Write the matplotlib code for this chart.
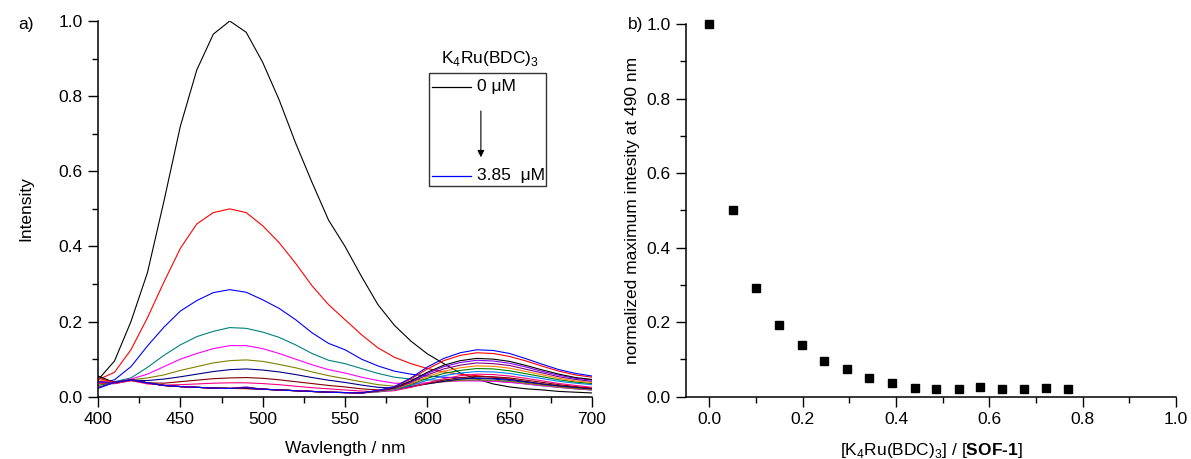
import matplotlib
matplotlib.use("Agg")
import matplotlib.pyplot as plt
from matplotlib.patches import Rectangle
from matplotlib.ticker import MultipleLocator

plt.rcParams['font.family'] = ['Liberation Sans', 'DejaVu Sans']
plt.rcParams['mathtext.fontset'] = 'custom'
plt.rcParams['mathtext.rm'] = 'Liberation Sans'
plt.rcParams['mathtext.bf'] = 'Liberation Sans:bold'
plt.rcParams['font.size'] = 12.5

# ---- panel a: emission spectra ----
wavelength = [400, 410, 420, 430, 440, 450, 460, 470, 480, 490, 500, 510, 520, 530, 540, 550,
              560, 570, 580, 590, 600, 610, 620, 630, 640, 650, 660, 670, 680, 690, 700]

spec_01 = [0.045, 0.095, 0.20, 0.33, 0.52, 0.72, 0.87, 0.965, 1.00, 0.97, 0.89, 0.79, 0.675, 0.57, 0.47, 0.40,
           0.32, 0.245, 0.19, 0.148, 0.114, 0.088, 0.063, 0.047, 0.034, 0.026, 0.021, 0.018, 0.014, 0.012, 0.010]
spec_02 = [0.045, 0.065, 0.125, 0.21, 0.305, 0.395, 0.46, 0.49, 0.50, 0.49, 0.455, 0.41, 0.355, 0.295, 0.245, 0.205,
           0.165, 0.13, 0.105, 0.088, 0.075, 0.066, 0.06, 0.056, 0.052, 0.047, 0.04, 0.034, 0.029, 0.025, 0.022]
spec_03 = [0.035, 0.045, 0.08, 0.135, 0.185, 0.228, 0.256, 0.277, 0.285, 0.278, 0.258, 0.235, 0.205, 0.17, 0.142, 0.125,
           0.1, 0.082, 0.068, 0.06, 0.055, 0.052, 0.05, 0.049, 0.047, 0.043, 0.038, 0.032, 0.027, 0.023, 0.02]
spec_04 = [0.04, 0.04, 0.05, 0.078, 0.11, 0.138, 0.16, 0.174, 0.184, 0.182, 0.172, 0.158, 0.138, 0.115, 0.097, 0.088,
           0.075, 0.062, 0.052, 0.047, 0.045, 0.044, 0.044, 0.044, 0.042, 0.039, 0.034, 0.029, 0.025, 0.021, 0.018]
spec_05 = [0.04, 0.038, 0.047, 0.06, 0.08, 0.1, 0.115, 0.128, 0.136, 0.136, 0.128, 0.115, 0.1, 0.085, 0.072, 0.063,
           0.052, 0.043, 0.036, 0.035, 0.037, 0.04, 0.042, 0.042, 0.041, 0.038, 0.034, 0.029, 0.025, 0.021, 0.018]
spec_06 = [0.04, 0.037, 0.045, 0.05, 0.058, 0.07, 0.08, 0.09, 0.096, 0.098, 0.094, 0.086, 0.077, 0.066, 0.056, 0.048,
           0.04, 0.032, 0.028, 0.03, 0.035, 0.04, 0.044, 0.045, 0.044, 0.041, 0.036, 0.031, 0.026, 0.022, 0.019]
spec_07 = [0.04, 0.037, 0.044, 0.043, 0.047, 0.053, 0.06, 0.067, 0.072, 0.074, 0.071, 0.066, 0.059, 0.051, 0.044, 0.038,
           0.031, 0.025, 0.023, 0.027, 0.034, 0.041, 0.047, 0.05, 0.049, 0.046, 0.04, 0.034, 0.029, 0.025, 0.021]
spec_08 = [0.035, 0.035, 0.043, 0.037, 0.036, 0.04, 0.044, 0.048, 0.05, 0.051, 0.049, 0.045, 0.04, 0.035, 0.03, 0.026,
           0.021, 0.018, 0.019, 0.026, 0.035, 0.044, 0.051, 0.054, 0.053, 0.05, 0.044, 0.038, 0.032, 0.027, 0.023]
spec_09 = [0.035, 0.035, 0.043, 0.034, 0.031, 0.032, 0.034, 0.036, 0.037, 0.037, 0.035, 0.032, 0.028, 0.024, 0.021, 0.018,
           0.015, 0.013, 0.016, 0.025, 0.037, 0.048, 0.056, 0.06, 0.059, 0.055, 0.049, 0.042, 0.035, 0.03, 0.025]
spec_10 = [0.05, 0.038, 0.045, 0.037, 0.03, 0.027, 0.025, 0.023, 0.022, 0.024, 0.02, 0.018, 0.016, 0.014, 0.012, 0.011,
           0.01, 0.013, 0.019, 0.03, 0.044, 0.056, 0.063, 0.067, 0.066, 0.062, 0.055, 0.048, 0.041, 0.036, 0.032]
spec_11 = [0.03, 0.038, 0.045, 0.037, 0.03, 0.027, 0.025, 0.023, 0.022, 0.023, 0.02, 0.018, 0.016, 0.014, 0.012, 0.011,
           0.01, 0.014, 0.02, 0.033, 0.049, 0.062, 0.07, 0.075, 0.074, 0.069, 0.061, 0.053, 0.045, 0.039, 0.035]
spec_12 = [0.045, 0.038, 0.045, 0.037, 0.03, 0.027, 0.025, 0.023, 0.022, 0.021, 0.02, 0.018, 0.016, 0.014, 0.012, 0.011,
           0.01, 0.014, 0.021, 0.035, 0.053, 0.068, 0.077, 0.082, 0.081, 0.076, 0.067, 0.058, 0.049, 0.042, 0.038]
spec_13 = [0.025, 0.038, 0.045, 0.037, 0.03, 0.027, 0.025, 0.023, 0.022, 0.026, 0.02, 0.018, 0.016, 0.014, 0.012, 0.011,
           0.01, 0.015, 0.022, 0.038, 0.058, 0.074, 0.084, 0.09, 0.088, 0.083, 0.073, 0.063, 0.053, 0.046, 0.041]
spec_14 = [0.04, 0.038, 0.045, 0.037, 0.03, 0.027, 0.025, 0.023, 0.022, 0.022, 0.02, 0.018, 0.016, 0.014, 0.012, 0.011,
           0.01, 0.015, 0.023, 0.04, 0.062, 0.08, 0.091, 0.097, 0.095, 0.089, 0.079, 0.067, 0.057, 0.049, 0.044]
spec_15 = [0.055, 0.038, 0.045, 0.037, 0.03, 0.027, 0.025, 0.023, 0.022, 0.022, 0.02, 0.018, 0.016, 0.014, 0.012, 0.011,
           0.01, 0.016, 0.024, 0.042, 0.065, 0.084, 0.096, 0.102, 0.1, 0.094, 0.083, 0.071, 0.06, 0.051, 0.046]
spec_16 = [0.05, 0.038, 0.045, 0.037, 0.03, 0.027, 0.025, 0.023, 0.022, 0.024, 0.02, 0.018, 0.016, 0.014, 0.012, 0.011,
           0.01, 0.016, 0.026, 0.047, 0.074, 0.096, 0.11, 0.117, 0.115, 0.107, 0.095, 0.081, 0.068, 0.058, 0.052]
spec_17 = [0.022, 0.038, 0.045, 0.037, 0.03, 0.027, 0.025, 0.023, 0.022, 0.024, 0.02, 0.018, 0.016, 0.014, 0.012, 0.011,
           0.01, 0.017, 0.027, 0.05, 0.079, 0.102, 0.117, 0.125, 0.123, 0.115, 0.101, 0.086, 0.072, 0.062, 0.055]

spectra = [spec_01, spec_02, spec_03, spec_04, spec_05, spec_06, spec_07, spec_08, spec_09,
           spec_10, spec_11, spec_12, spec_13, spec_14, spec_15, spec_16, spec_17]
spec_colors = ['#000000', '#FF0000', '#0000FF', '#008080', '#FF00FF', '#808000', '#000080', '#800000',
               '#FF0080', '#0080FF', '#008000', '#FF8000', '#800080', '#8000FF', '#000000', '#FF0000', '#0000FF']

# ---- panel b: quenching ----
ratio = [0.0, 0.05, 0.1, 0.15, 0.198, 0.246, 0.295, 0.343, 0.391, 0.44, 0.486, 0.535, 0.581, 0.628, 0.675, 0.722, 0.768]
norm_int = [1.0, 0.501, 0.293, 0.192, 0.140, 0.097, 0.074, 0.050, 0.036, 0.023, 0.022, 0.021, 0.025, 0.021, 0.021, 0.023, 0.022]

fig = plt.figure(figsize=(11.91, 4.59), dpi=100)
ax1 = fig.add_axes([0.0823, 0.1357, 0.4148, 0.8185])
ax2 = fig.add_axes([0.576, 0.1357, 0.4114, 0.8120])

for ax in (ax1, ax2):
    ax.spines['top'].set_visible(False)
    ax.spines['right'].set_visible(False)
    ax.spines['left'].set_linewidth(1.1)
    ax.spines['bottom'].set_linewidth(1.1)
    ax.tick_params(which='major', direction='out', length=7, width=1.0, pad=4, labelsize=12.5)
    ax.tick_params(which='minor', direction='out', length=4, width=1.0)
    ax.yaxis.set_major_locator(MultipleLocator(0.2))
    ax.yaxis.set_minor_locator(MultipleLocator(0.1))
    ax.yaxis.set_major_formatter(matplotlib.ticker.FormatStrFormatter('%.1f'))

for s, c in zip(spectra, spec_colors):
    ax1.plot(wavelength, s, color=c, lw=0.8)
ax1.set_xlim(400, 700)
ax1.set_ylim(0, 1.0)
ax1.xaxis.set_major_locator(MultipleLocator(50))
ax1.xaxis.set_minor_locator(MultipleLocator(25))
ax1.set_xlabel('Wavlength / nm', labelpad=10)
ax1.set_ylabel('Intensity', labelpad=18)

# legend drawn by hand
ax1.add_patch(Rectangle((0.67, 0.561), 0.237, 0.301, transform=ax1.transAxes,
                        fill=False, edgecolor='#333333', lw=1.0, clip_on=False))
ax1.text(0.794, 0.901, r'K$_\mathregular{4}$Ru(BDC)$_\mathregular{3}$', transform=ax1.transAxes,
         ha='center', va='center')
ax1.plot([0.676, 0.755], [0.825, 0.825], color='#000000', lw=0.9, transform=ax1.transAxes)
ax1.text(0.767, 0.825, '0 μM', transform=ax1.transAxes, va='center')
ax1.plot([0.676, 0.755], [0.588, 0.588], color='#0000FF', lw=0.9, transform=ax1.transAxes)
ax1.text(0.767, 0.588, '3.85  μM', transform=ax1.transAxes, va='center')
ax1.annotate('', xy=(0.775, 0.63), xytext=(0.775, 0.768), xycoords='axes fraction',
             arrowprops=dict(arrowstyle='-|>', color='k', lw=0.8, mutation_scale=10))

ax2.plot(ratio, norm_int, 's', color='k', ms=6, clip_on=False)
ax2.set_xlim(-0.05, 1.0)
ax2.set_ylim(0, 1.0)
ax2.xaxis.set_major_locator(MultipleLocator(0.2))
ax2.xaxis.set_minor_locator(MultipleLocator(0.1))
ax2.xaxis.set_major_formatter(matplotlib.ticker.FormatStrFormatter('%.1f'))
ax2.set_xlabel('[K$_\\mathregular{4}$Ru(BDC)$_\\mathregular{3}$] / [$\\mathbf{SOF\u20101}$]', labelpad=10)
ax2.set_ylabel('normalized maximum intesity at 490 nm', labelpad=5)

fig.text(18 / 1191, 1 - 25 / 459, 'a)', ha='left', va='center')
fig.text(628 / 1191, 1 - 24 / 459, 'b)', ha='left', va='center')

fig.savefig('out.png', dpi=100)
